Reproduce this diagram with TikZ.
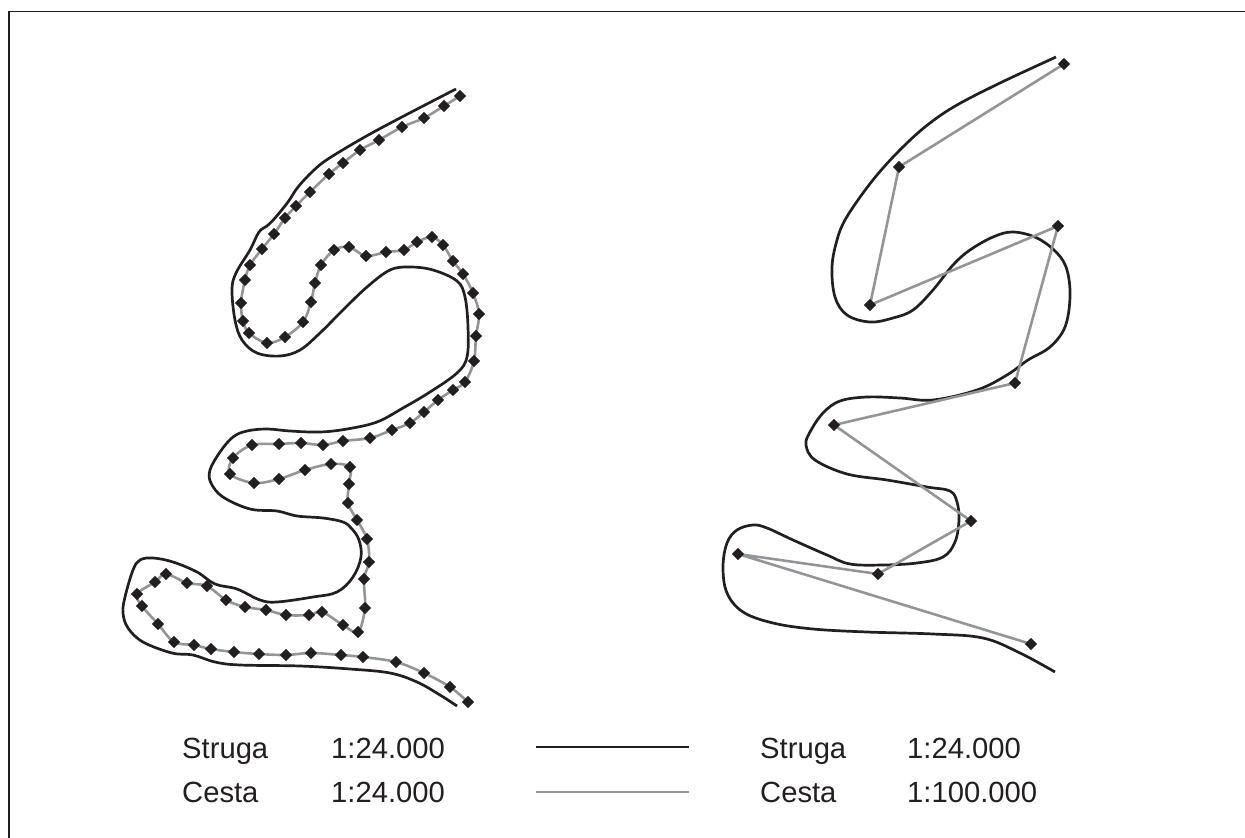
\documentclass[tikz,border=0pt]{standalone}
\usepackage{fontspec}
\setmainfont{Liberation Sans}
\usetikzlibrary{shapes.geometric}
\definecolor{ink}{HTML}{231F20}
\definecolor{ashgray}{HTML}{939598}
\tikzset{
  river/.style={draw=ink,line width=2.7bp,line join=round},
  roadline/.style={draw=ashgray,line width=2.6bp,line join=round},
  vertexmark/.style={diamond,aspect=1,fill=ink,draw=none,inner sep=0pt,minimum width=12.5bp,minimum height=12.5bp},
  legendtext/.style={anchor=base west,inner sep=0pt,text=ink,font=\fontsize{29.2bp}{32bp}\selectfont},
  framebox/.style={draw=ink,line width=1.6bp,line join=miter}
}
\begin{document}
\begin{tikzpicture}[x=1bp,y=-1bp]
\useasboundingbox (0,0) rectangle (1245,838);
\fill[white] (0,0) rectangle (1245,838);
\coordinate (fa) at (8.7,838);
\coordinate (fc) at (8.7,11.5);
\coordinate (fb) at (1245,11.5);
\draw[framebox] (fa) -- (fc) -- (fb);
% left river
\draw[river] plot[smooth,tension=0.6] coordinates {(456,89) (400,118) (363,138) (328,159) (313,171) (298,187) (288,202) (275,218) (267,226) (259,232) (250,250) (236,273) (232,290) (235,320) (242,340) (257,353) (280,356) (300,350) (320,333) (343,310) (367,287) (390,270) (410,267) (433,270) (457,281) (465,297) (468,327) (467,357) (457,373) (430,392) (403,408) (377,422) (347,429) (320,432) (290,431) (267,429) (247,431) (233,437) (220,452) (210,470) (211,483) (223,497) (250,509) (277,511) (297,516) (323,518) (343,522) (352,529) (359,540) (361,557) (353,577) (337,592) (313,597) (277,602) (260,600) (237,589) (215,584) (197,572) (173,562) (153,558) (140,560) (133,570) (125,597) (123,613) (128,628) (143,642) (172,653) (193,655) (215,662) (240,665) (300,666) (350,669) (390,673) (417,682) (440,695) (457,706)};
% left road
\gdef\leftlist{}
\foreach[count=\i] \x/\y in {460/96,444/106,424/118,402/127,379/140,360/150,343/163,329/174,310/192,296/206,285/218,274/234,262/249,250/265,245/280,241/303,243/321,249/333,267/343,285/337,303/322,311/302,315/283,321/265,334/250,349/247,366/256,386/252,404/250,417/242,432/237,443/245,453/261,463/274,473/293,479/314,476/336,474/361,465/382,453/390,438/400,424/412,410/423,392/430,370/438,343/441,323/445,301/443,279/444,252/445,233/458,230/474,254/483,279/479,305/470,331/464,350/467,349/484,348/503,357/520,367/539,369/562,364/579,365/608,358/632,343/625,322/612,309/615,286/615,266/610,245/607,226/600,207/586,187/583,166/574,155/582,137/594,142/606,158/624,174/642,194/645,211/649,234/652,259/654,286/655,311/653,341/655,363/657,396/662,424/673,450/687,468/702}{
  \global\expandafter\let\csname LX\i\endcsname\x
  \global\expandafter\let\csname LY\i\endcsname\y
  \xdef\leftlist{\leftlist (\x,\y)}
  \xdef\leftcount{\i}
}
\edef\drawleft{\noexpand\draw[roadline] plot[smooth,tension=0.55] coordinates {\leftlist};}
\drawleft
\foreach \i in {1,...,\leftcount}{\node[vertexmark] (L\i) at (\csname LX\i\endcsname,\csname LY\i\endcsname) {};}
% right river
\draw[river] plot[smooth,tension=0.6] coordinates {(1056,57) (1000,83) (957,105) (930,123) (907,143) (883,168) (863,193) (845,220) (837,240) (832,267) (835,297) (847,315) (870,322) (893,318) (913,310) (933,290) (953,265) (970,250) (993,237) (1013,232) (1037,238) (1057,253) (1067,270) (1070,297) (1065,327) (1050,347) (1028,360) (1007,375) (977,390) (933,400) (900,398) (867,397) (840,401) (823,413) (810,432) (806,445) (815,460) (847,474) (887,480) (927,487) (950,491) (957,502) (959,520) (955,542) (943,557) (917,563) (883,565) (850,564) (827,555) (793,540) (767,528) (753,525) (737,530) (727,543) (723,567) (727,593) (743,612) (773,623) (813,629) (867,632) (933,634) (983,638) (1020,653) (1055,672)};
% right road
\foreach \n/\x/\y in {r1/1064/64,r2/899/167,r3/870/305,r4/1058/226,r5/1015/383,r6/834/425,r7/971/521,r8/878/574,r9/738/554,r10/1031/644}{
  \coordinate (\n) at (\x,\y);
}
\draw[roadline] (r1) -- (r2) -- (r3) -- (r4) -- (r5) -- (r6) -- (r7) -- (r8) -- (r9) -- (r10);
\foreach \n in {r1,r2,r3,r4,r5,r6,r7,r8,r9,r10}{\node[vertexmark] (m\n) at (\n) {};}
% legend
\node[legendtext] (s1) at (182,758) {Struga};
\node[legendtext] (s2) at (331,758) {1:24.000};
\node[legendtext] (c1) at (182,802) {Cesta};
\node[legendtext] (c2) at (331,802) {1:24.000};
\node[legendtext] (s3) at (760,758) {Struga};
\node[legendtext] (s4) at (907,758) {1:24.000};
\node[legendtext] (c3) at (760,802) {Cesta};
\node[legendtext] (c4) at (907,802) {1:100.000};
\coordinate (ka) at (536,747);
\coordinate (kb) at (689,747);
\coordinate (kc) at (536,792);
\coordinate (kd) at (689,792);
\draw[river] (ka) -- (kb);
\draw[roadline] (kc) -- (kd);
\end{tikzpicture}
\end{document}
